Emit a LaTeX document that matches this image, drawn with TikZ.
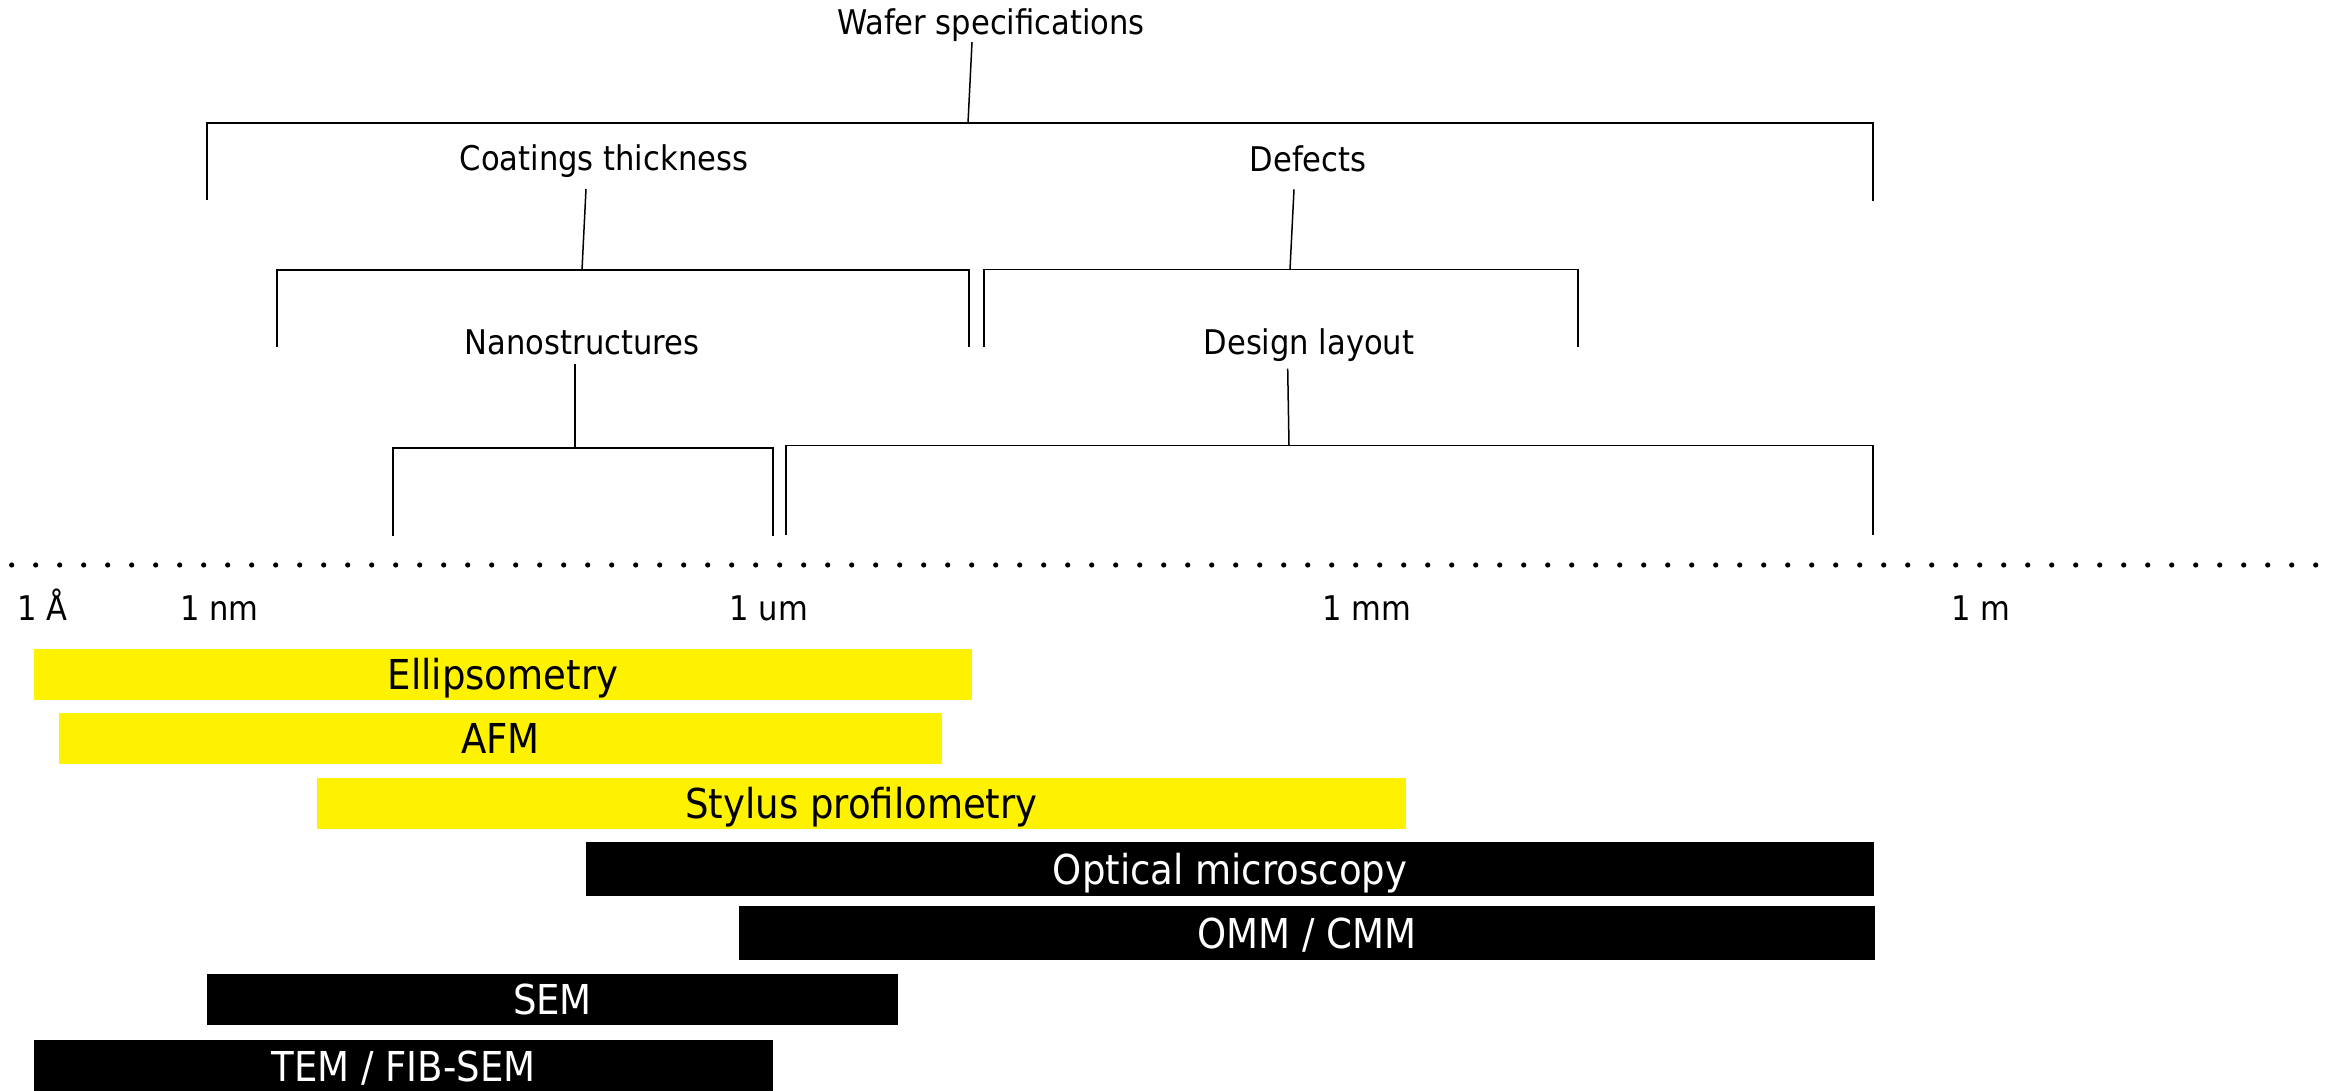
\documentclass[tikz,border=0pt]{standalone}
\usepackage{fontspec}
\setmainfont{DejaVu Sans Condensed}
\begin{document}
\begin{tikzpicture}[x=0.5pt,y=-0.5pt,
  lbl/.style={font=\fontsize{17}{20}\selectfont, inner sep=0pt, anchor=base},
  brk/.style={line width=0.9pt},
  con/.style={line width=0.75pt},
  bar/.style={inner sep=0pt, font=\fontsize{20.6}{24}\selectfont, text height=15pt, text depth=0pt},
  ybar/.style={bar, fill=yellow, text=black},
  kbar/.style={bar, fill=black, text=white}]
\useasboundingbox (0,0) rectangle (2325,1091);
\fill[white] (0,0) rectangle (2325,1091);

% tree labels
\node[lbl] (ws) at (991,34.7) {Wafer specifications};
\node[lbl] (ct) at (604,171) {Coatings thickness};
\node[lbl] (df) at (1308,171.5) {Defects};
\node[lbl] (ns) at (582,354.5) {Nanostructures};
\node[lbl] (dl) at (1309,354.3) {Design layout};

% brackets
\coordinate (b1) at (968,123);
\coordinate (b2) at (582,270);
\coordinate (b3) at (1290,269.5);
\coordinate (b4) at (575,448);
\coordinate (b5) at (1289,445.5);
\draw[brk] (207,200) -- (207,123) -- (1873,123) -- (1873,201);
\draw[brk] (276.7,347) -- (276.7,270) -- (968.7,270) -- (968.7,347);
\draw[brk] (984,347) -- (984,269.5) -- (1578,269.5) -- (1578,347);
\draw[brk] (393,536) -- (393,448) -- (773,448) -- (773,536);
\draw[brk] (785.7,534.7) -- (785.7,445.5) -- (1873,445.5) -- (1873,535);

% connectors
\draw[con] ([shift={(-19,7.5)}]ws.base) -- (b1);
\draw[con] ([shift={(-18,18)}]ct.base) -- (b2);
\draw[con] ([shift={(-14,17.8)}]df.base) -- (b3);
\draw[con] ([shift={(-7,9.5)}]ns.base) -- (b4);
\draw[con] ([shift={(-21.3,14.4)}]dl.base) -- (b5);

% dotted scale line
\draw[line width=2.6pt, line cap=round, dash pattern=on 0pt off 12pt] (11.7,565) -- (2318,565);

% scale labels
\node[lbl] (sA) at (42.5,620.7) {1 Å};
\node[lbl] (snm) at (219.5,620.7) {1 nm};
\node[lbl] (sum) at (769,620.7) {1 um};
\node[lbl] (smm) at (1367,620.7) {1 mm};
\node[lbl] (sm) at (1981,620.7) {1 m};

% bars
\node[ybar, minimum width=938*0.5pt, minimum height=51*0.5pt] (ell) at (503,674.5) {Ellipsometry};
\node[ybar, minimum width=883*0.5pt, minimum height=51*0.5pt] (afm) at (500.5,738.5) {AFM};
\node[ybar, minimum width=1089*0.5pt, minimum height=51*0.5pt] (sty) at (861.5,803.5) {Stylus profilometry};
\node[kbar, minimum width=1288*0.5pt, minimum height=54*0.5pt] (opt) at (1230,869) {Optical microscopy};
\node[kbar, minimum width=1136*0.5pt, minimum height=54*0.5pt] (omm) at (1307,933) {OMM / CMM};
\node[kbar, minimum width=691*0.5pt, minimum height=51*0.5pt] (sem) at (552.5,999.5) {SEM};
\node[kbar, minimum width=739*0.5pt, minimum height=52*0.5pt] (tem) at (403.5,1066) {TEM / FIB-SEM};
\end{tikzpicture}
\end{document}
